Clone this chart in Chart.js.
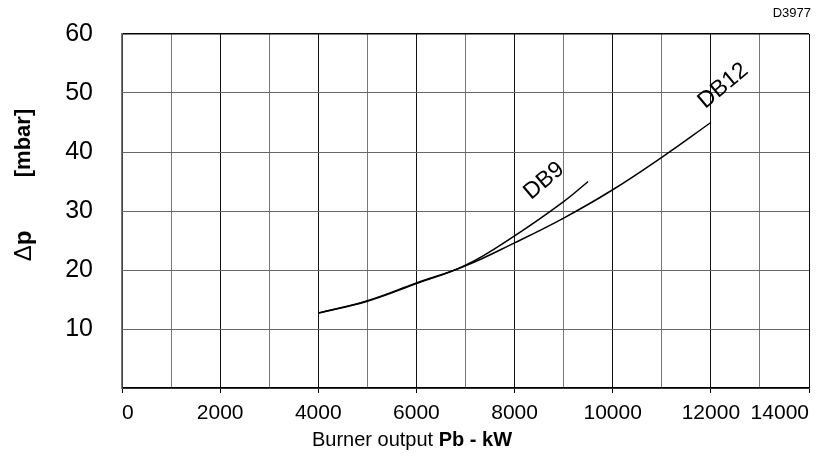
<!DOCTYPE html>
<html>
<head>
<meta charset="utf-8">
<script src="https://cdn.jsdelivr.net/npm/chart.js@4/dist/chart.umd.min.js"></script>
<style>
  html, body { margin: 0; padding: 0; background: #fff; }
  canvas { display: block; }
</style>
</head>
<body>
<canvas id="chart" width="831" height="475"></canvas>
<script>
// values
const db12Output = [4000, 5000, 6000, 7000, 8000, 9000, 10000, 11000, 12000];
const db12Pressure = [12.7, 14.8, 17.8, 20.7, 24.6, 28.8, 33.6, 39.1, 45.0];
const db9Output = [4000, 5000, 6000, 7000, 8000, 9000, 9500];
const db9Pressure = [12.7, 14.7, 17.7, 20.8, 25.8, 31.6, 35.0];

const xTickLabels = ['0', '2000', '4000', '6000', '8000', '10000', '12000', '14000'];
const yTickLabels = ['10', '20', '30', '40', '50', '60'];

// curve names and where they sit (kW, mbar)
const curveLabels = [
  { text: 'DB9', x: 8600, y: 35.1 },
  { text: 'DB12', x: 12250, y: 51.2 }
];

const FONT = '"Liberation Sans", Arial, sans-serif';

function toPoints(xs, ys) {
  return xs.map((x, i) => ({ x: x, y: ys[i] }));
}

// titles, curve names and drawing number
const annotationsPlugin = {
  id: 'annotations',
  afterDraw(chart) {
    const { ctx, scales, chartArea } = chart;
    const { x, y } = scales;

    ctx.save();
    ctx.fillStyle = '#000';

    // curve names, rotated along the curves
    ctx.font = '23px ' + FONT;
    ctx.textAlign = 'center';
    ctx.textBaseline = 'middle';
    curveLabels.forEach(l => {
      ctx.save();
      ctx.translate(x.getPixelForValue(l.x), y.getPixelForValue(l.y));
      ctx.rotate(-40 * Math.PI / 180);
      ctx.fillText(l.text, 0, 0);
      ctx.restore();
    });

    // drawing number top right
    ctx.font = '13px ' + FONT;
    ctx.textAlign = 'right';
    ctx.textBaseline = 'middle';
    ctx.fillText('D3977', chartArea.right + 2, 13);

    // x title: normal + bold part
    const part1 = 'Burner output ';
    const part2 = 'Pb - kW';
    ctx.font = '20px ' + FONT;
    const w1 = ctx.measureText(part1).width;
    ctx.font = 'bold 20px ' + FONT;
    const w2 = ctx.measureText(part2).width;
    const cx = 412;
    const ty = 440;
    ctx.textAlign = 'left';
    ctx.font = '20px ' + FONT;
    ctx.fillText(part1, cx - (w1 + w2) / 2, ty);
    ctx.font = 'bold 20px ' + FONT;
    ctx.fillText(part2, cx - (w1 + w2) / 2 + w1, ty);

    // y title, rotated, split in two pieces
    ctx.save();
    ctx.translate(24, 143);
    ctx.rotate(-Math.PI / 2);
    ctx.textAlign = 'center';
    ctx.font = 'bold 22px ' + FONT;
    ctx.fillText('[mbar]', 0, 0);
    ctx.restore();

    ctx.save();
    ctx.translate(24, 246);
    ctx.rotate(-Math.PI / 2);
    ctx.textAlign = 'left';
    ctx.font = '24px ' + FONT;
    const dw = ctx.measureText('\u0394').width;
    ctx.font = 'bold 24px ' + FONT;
    const pw = ctx.measureText('p').width;
    const sx = -(dw + pw) / 2;
    ctx.font = '24px ' + FONT;
    ctx.fillText('\u0394', sx, 0);
    ctx.font = 'bold 24px ' + FONT;
    ctx.fillText('p', sx + dw, 0);
    ctx.restore();

    ctx.restore();
  }
};

const lineStyle = {
  borderColor: '#000',
  borderWidth: 1.5,
  pointRadius: 0,
  fill: false,
  tension: 0.4
};

new Chart(document.getElementById('chart'), {
  type: 'line',
  data: {
    datasets: [
      Object.assign({ label: 'DB9', data: toPoints(db9Output, db9Pressure) }, lineStyle),
      Object.assign({ label: 'DB12', data: toPoints(db12Output, db12Pressure) }, lineStyle)
    ]
  },
  options: {
    responsive: false,
    animation: false,
    devicePixelRatio: 1,
    layout: { padding: { left: 0, right: 22, top: 34, bottom: 0 } },
    plugins: {
      legend: { display: false },
      tooltip: { enabled: false }
    },
    scales: {
      x: {
        type: 'linear',
        min: 0,
        max: 14000,
        afterFit(scale) { scale.height = 87; },
        ticks: {
          stepSize: 1000,
          autoSkip: false,
          maxRotation: 0,
          align: 'inner',
          padding: 8,
          color: '#000',
          font: { family: FONT, size: 21 },
          callback(value) {
            const i = xTickLabels.indexOf(String(value));
            return i >= 0 ? xTickLabels[i] : '';
          }
        },
        grid: {
          color: c => (c.tick && c.tick.value % 2000 === 0) ? '#111' : '#777',
          lineWidth: 1,
          tickLength: 5,
          tickColor: c => (c.tick && c.tick.value % 2000 === 0) ? '#000' : 'rgba(0,0,0,0)'
        },
        border: { color: '#000', width: 1.5 }
      },
      y: {
        min: 0,
        max: 60,
        afterFit(scale) {
          scale.width = 122;
          scale.paddingTop = 0;
          scale.paddingBottom = 0;
        },
        ticks: {
          stepSize: 10,
          padding: 29,
          color: '#000',
          font: { family: FONT, size: 25 },
          callback(value) {
            const i = yTickLabels.indexOf(String(value));
            return i >= 0 ? yTickLabels[i] : '';
          }
        },
        grid: {
          color: c => (c.tick && c.tick.value === 60) ? '#000' : '#666',
          lineWidth: c => (c.tick && c.tick.value === 60) ? 1.5 : 1,
          drawTicks: false
        },
        border: { color: '#777', width: 1.5 }
      }
    }
  },
  plugins: [annotationsPlugin]
});
</script>
</body>
</html>
